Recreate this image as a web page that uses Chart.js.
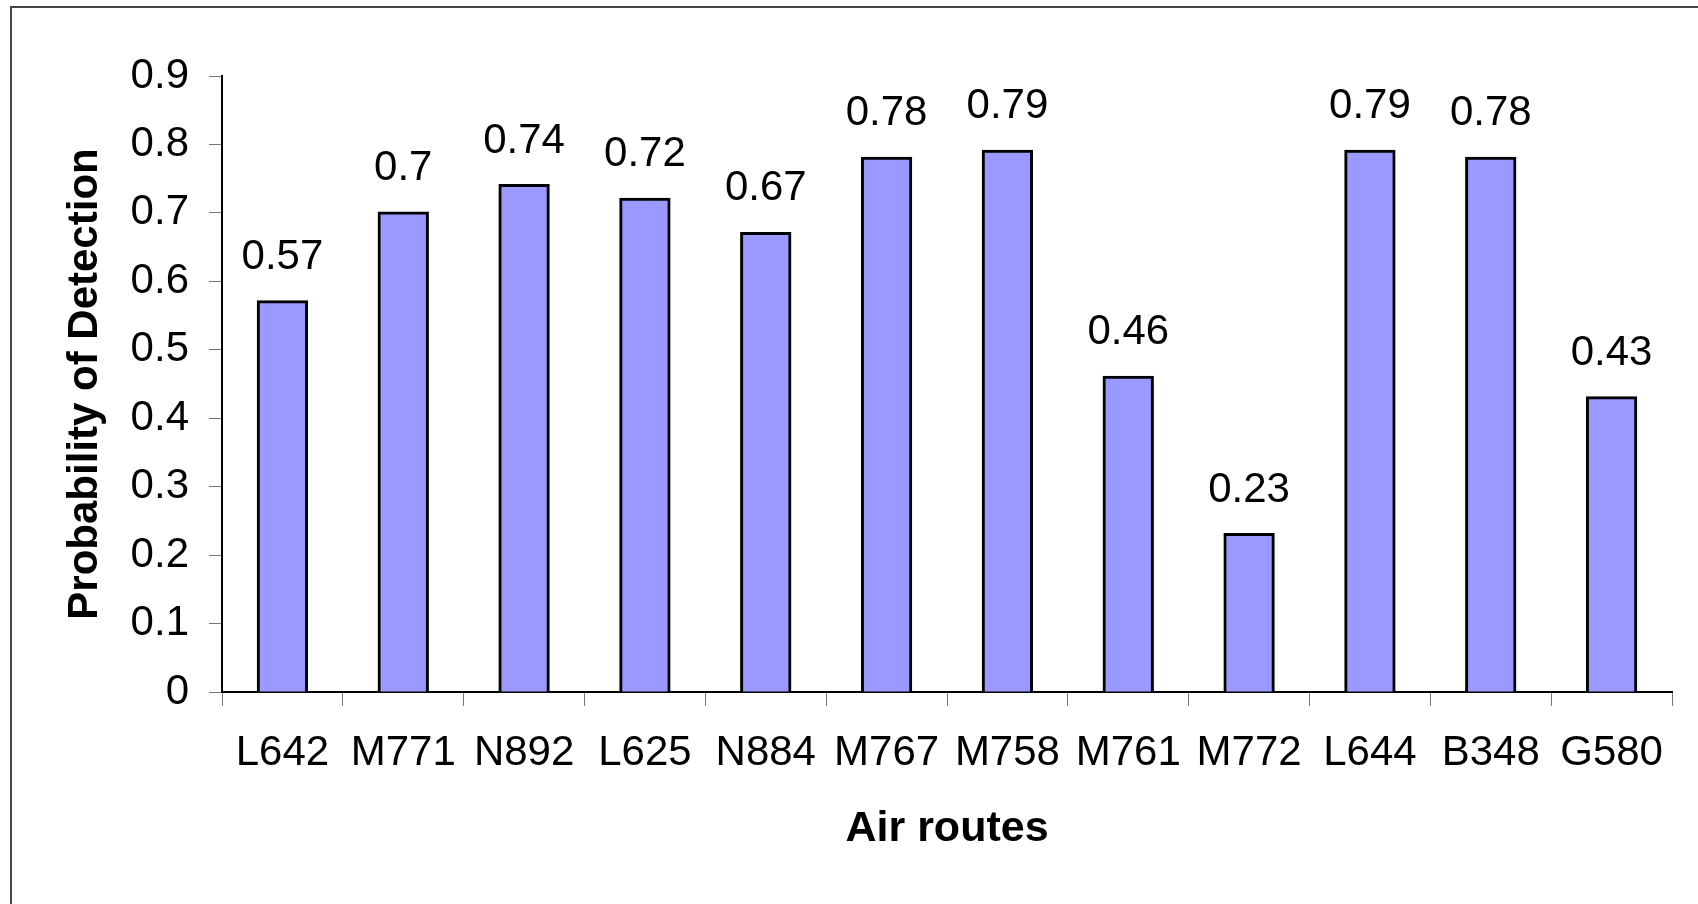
<!DOCTYPE html>
<html>
<head>
<meta charset="utf-8">
<title>Probability of Detection by air route</title>
<script src="https://cdn.jsdelivr.net/npm/chart.js@4/dist/chart.umd.min.js"></script>
<style>
  html, body { margin: 0; padding: 0; background: #fff; overflow: hidden; }
  #wrap { position: relative; width: 1698px; height: 904px; }
  #frame {
    position: absolute; left: 10px; top: 6px; width: 1800px; height: 1000px;
    border-left: 2px solid #444; border-top: 2px solid #444; pointer-events: none;
  }
</style>
</head>
<body>
<div id="wrap">
  <canvas id="detChart" width="1698" height="904"></canvas>
  <div id="frame"></div>
</div>
<script>
// chart data
const routes = ["L642", "M771", "N892", "L625", "N884", "M767", "M758", "M761", "M772", "L644", "B348", "G580"];
const detection = [0.57, 0.7, 0.74, 0.72, 0.67, 0.78, 0.79, 0.46, 0.23, 0.79, 0.78, 0.43];
const yTickLabels = ["0", "0.1", "0.2", "0.3", "0.4", "0.5", "0.6", "0.7", "0.8", "0.9"];

const FONT = "'Liberation Sans', Arial, sans-serif";

// draws the value above each bar
const valueLabels = {
  id: "valueLabels",
  afterDatasetsDraw(chart) {
    const ctx = chart.ctx;
    const meta = chart.getDatasetMeta(0);
    ctx.save();
    ctx.font = "42px " + FONT;
    ctx.fillStyle = "#000";
    ctx.textAlign = "center";
    ctx.textBaseline = "alphabetic";
    meta.data.forEach((bar, i) => {
      ctx.fillText(String(detection[i]), bar.x, bar.y - 33);
    });
    ctx.restore();
  }
};

new Chart("detChart", {
  type: "bar",
  data: {
    labels: routes,
    datasets: [{
      data: detection,
      backgroundColor: "#9999ff",
      borderColor: "#000",
      borderWidth: 3,
      inflateAmount: 1.5,
      barPercentage: 0.4,
      categoryPercentage: 1.0
    }]
  },
  options: {
    responsive: false,
    animation: false,
    layout: { padding: { left: 0, top: 76, right: 26, bottom: 0 } },
    plugins: {
      legend: { display: false },
      tooltip: { enabled: false }
    },
    scales: {
      x: {
        afterFit: (scale) => { scale.height = 212; },
        grid: {
          drawOnChartArea: false,
          drawTicks: true,
          tickLength: 14,
          color: "#777",
          offset: true
        },
        border: { display: true, color: "#000", width: 2 },
        ticks: {
          color: "#000",
          font: { family: FONT, size: 42 },
          padding: 22,
          maxRotation: 0,
          autoSkip: false
        },
        title: {
          display: true,
          text: "Air routes",
          color: "#000",
          font: { family: FONT, size: 43, weight: "bold" },
          padding: { top: 0, bottom: 49 }
        }
      },
      y: {
        min: 0,
        max: 0.9,
        afterFit: (scale) => { scale.width = 222; },
        grid: {
          drawOnChartArea: false,
          drawTicks: true,
          tickLength: 13,
          color: "#777"
        },
        border: { display: true, color: "#000", width: 2 },
        ticks: {
          stepSize: 0.1,
          color: "#000",
          font: { family: FONT, size: 42 },
          padding: 20,
          callback: (v, i) => yTickLabels[i]
        },
        title: {
          display: true,
          text: "Probability of Detection",
          color: "#000",
          font: { family: FONT, size: 42, weight: "bold" },
          padding: { top: 60, bottom: 0 }
        }
      }
    }
  },
  plugins: [valueLabels]
});
</script>
</body>
</html>
